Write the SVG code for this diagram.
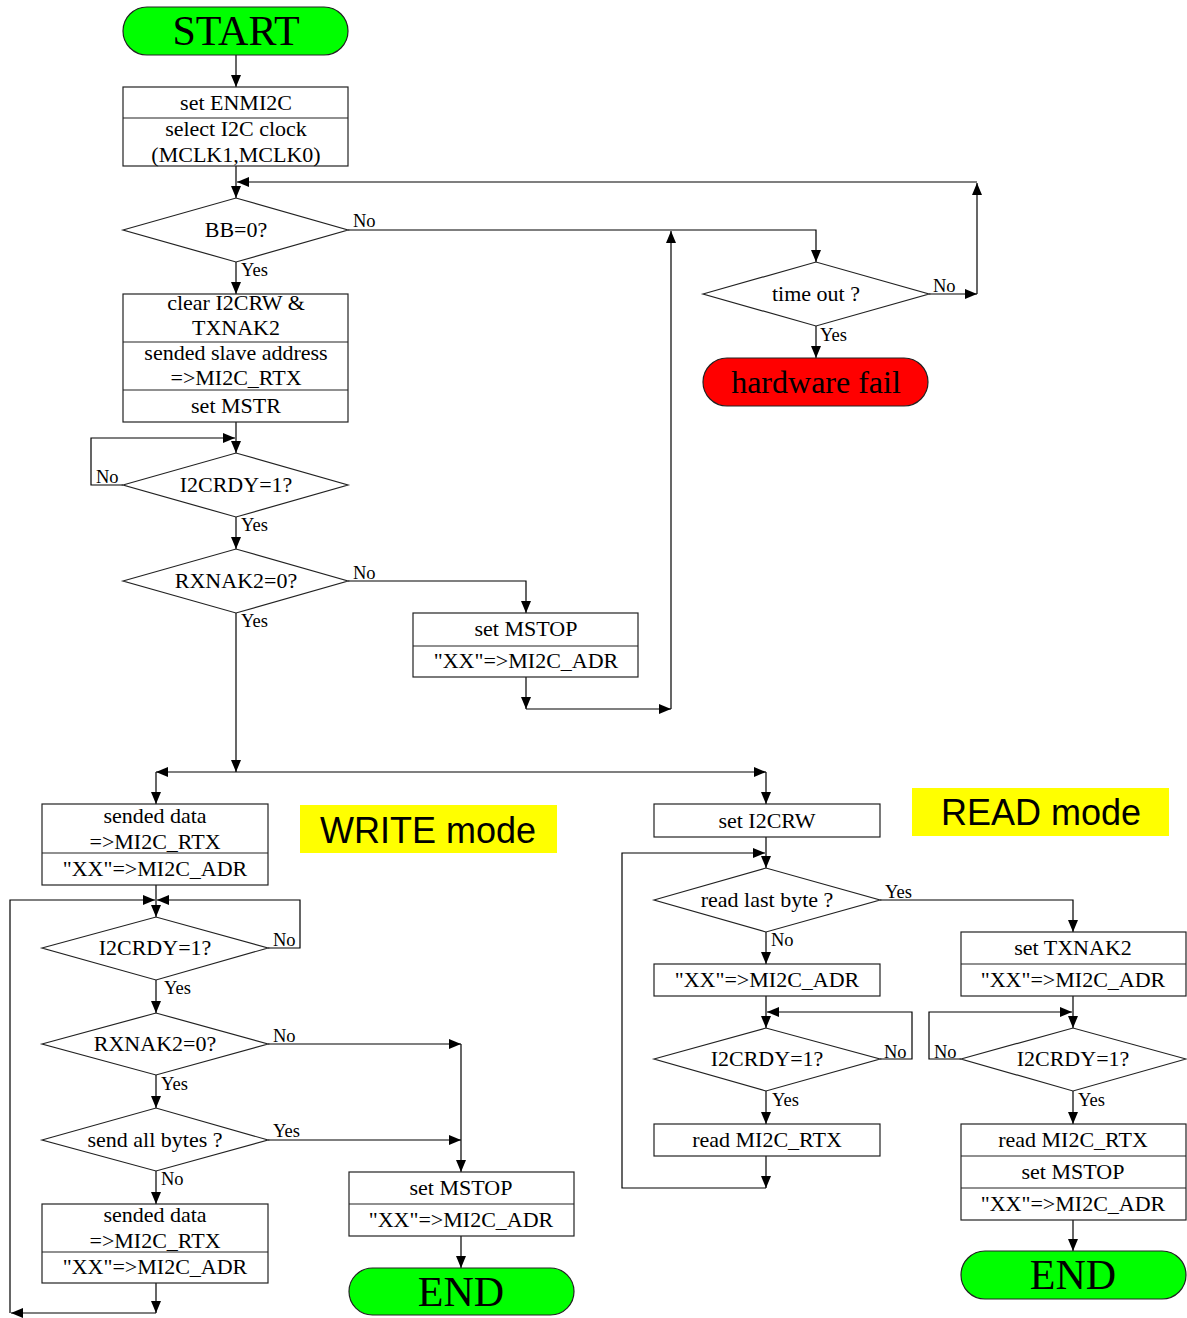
<svg xmlns="http://www.w3.org/2000/svg" width="1187" height="1318" viewBox="0 0 1187 1318">
<defs>
<marker id="arr" markerUnits="userSpaceOnUse" markerWidth="13" markerHeight="11" refX="12" refY="5" orient="auto">
<path d="M0,0 L12,5 L0,10 z" fill="#000"/>
</marker>
<style>
.box{fill:#fff;stroke:#222;stroke-width:1.2}
.div{stroke:#222;stroke-width:1.2}
.dia{fill:#fff;stroke:#222;stroke-width:1.2}
.term{stroke:#222;stroke-width:1.2}
.t{font-family:"Liberation Serif","Times New Roman",serif;font-size:22px;text-anchor:middle;fill:#000}
.big{font-family:"Liberation Serif","Times New Roman",serif;font-size:42px;text-anchor:middle;fill:#000}
.lab{font-family:"Liberation Serif","Times New Roman",serif;font-size:18.5px;fill:#000}
.mode{font-family:"Liberation Sans",Arial,sans-serif;font-size:36px;text-anchor:middle;fill:#000}
.c{fill:none;stroke:#000;stroke-width:1.2;marker-end:url(#arr)}
</style>
</defs>
<rect width="1187" height="1318" fill="#fff"/>

<g id="connectors">
<path class="c" d="M236,55 V87"/>
<path class="c" d="M236,166 V198"/>
<path class="c" d="M929,294 H977"/>
<path class="c" d="M977,294 V183"/>
<path class="c" d="M977,182 H237"/>
<path class="c" d="M348,230 H816 V262"/>
<path class="c" d="M816,326 V358"/>
<path class="c" d="M236,262 V294"/>
<path class="c" d="M236,422 V453"/>
<path class="c" d="M123,485 H91 V438 H235"/>
<path class="c" d="M236,517 V549"/>
<path class="c" d="M348,581 H526 V613"/>
<path class="c" d="M526,677 V709"/>
<path class="c" d="M526,709 H671"/>
<path class="c" d="M671,709 V231"/>
<path class="c" d="M236,613 V772"/>
<path class="c" d="M236,772 H156"/>
<path class="c" d="M236,772 H766"/>
<path class="c" d="M156,772 V804"/>
<path class="c" d="M766,772 V804"/>
<path class="c" d="M156,885 V917"/>
<path class="c" d="M268,948 H300 V900 H157"/>
<path class="c" d="M156,980 V1013"/>
<path class="c" d="M268,1044 H461"/>
<path class="c" d="M461,1044 V1172"/>
<path class="c" d="M156,1075 V1108"/>
<path class="c" d="M268,1140 H461"/>
<path class="c" d="M156,1171 V1204"/>
<path class="c" d="M156,1283 V1313"/>
<path class="c" d="M156,1313 H11"/>
<path class="c" d="M10,1313 V900 H155"/>
<path class="c" d="M461,1236 V1268"/>
<path class="c" d="M766,837 V868"/>
<path class="c" d="M766,1156 V1188"/>
<path class="c" d="M766,1188 H622 V853 H765"/>
<path class="c" d="M880,900 H1073 V932"/>
<path class="c" d="M766,932 V964"/>
<path class="c" d="M766,996 V1028"/>
<path class="c" d="M880,1059 H912 V1012 H767"/>
<path class="c" d="M766,1091 V1124"/>
<path class="c" d="M1073,996 V1028"/>
<path class="c" d="M961,1059 H929 V1012 H1072"/>
<path class="c" d="M1073,1091 V1124"/>
<path class="c" d="M1073,1220 V1251"/>
</g>

<g id="labels">
<text class="lab" x="353" y="227">No</text>
<text class="lab" x="241" y="276">Yes</text>
<text class="lab" x="933" y="292">No</text>
<text class="lab" x="820" y="341">Yes</text>
<text class="lab" x="96" y="483">No</text>
<text class="lab" x="241" y="531">Yes</text>
<text class="lab" x="353" y="579">No</text>
<text class="lab" x="241" y="627">Yes</text>
<text class="lab" x="273" y="946">No</text>
<text class="lab" x="164" y="994">Yes</text>
<text class="lab" x="273" y="1042">No</text>
<text class="lab" x="161" y="1090">Yes</text>
<text class="lab" x="273" y="1137">Yes</text>
<text class="lab" x="161" y="1185">No</text>
<text class="lab" x="885" y="898">Yes</text>
<text class="lab" x="771" y="946">No</text>
<text class="lab" x="884" y="1058">No</text>
<text class="lab" x="772" y="1106">Yes</text>
<text class="lab" x="934" y="1058">No</text>
<text class="lab" x="1078" y="1106">Yes</text>
</g>

<g id="start">
<rect class="term" x="123" y="7" width="225" height="48" rx="24" fill="#00ff00"/>
<text class="big" x="236" y="45">START</text>
</g>

<g id="init">
<rect class="box" x="123" y="87" width="225" height="79"/>
<line class="div" x1="123" y1="118" x2="348" y2="118"/>
<text class="t" x="236" y="110">set ENMI2C</text>
<text class="t" x="236" y="136">select I2C clock</text>
<text class="t" x="236" y="162">(MCLK1,MCLK0)</text>
</g>

<g id="bb">
<polygon class="dia" points="123,230 236,198 348,230 236,262"/>
<text class="t" x="236" y="237">BB=0?</text>
</g>

<g id="timeout">
<polygon class="dia" points="703,294 816,262 929,294 816,326"/>
<text class="t" x="816" y="301">time out ?</text>
</g>

<g id="hwfail">
<rect class="term" x="703" y="358" width="225" height="48" rx="24" fill="#ff0000"/>
<text class="t" x="816" y="393" style="font-size:32px">hardware fail</text>
</g>

<g id="addr">
<rect class="box" x="123" y="294" width="225" height="128"/>
<line class="div" x1="123" y1="342" x2="348" y2="342"/>
<line class="div" x1="123" y1="390" x2="348" y2="390"/>
<text class="t" x="236" y="310">clear I2CRW &amp;</text>
<text class="t" x="236" y="335">TXNAK2</text>
<text class="t" x="236" y="360">sended slave address</text>
<text class="t" x="236" y="385">=&gt;MI2C_RTX</text>
<text class="t" x="236" y="413">set MSTR</text>
</g>

<g id="rdy1">
<polygon class="dia" points="123,485 236,453 348,485 236,517"/>
<text class="t" x="236" y="492">I2CRDY=1?</text>
</g>

<g id="nak1">
<polygon class="dia" points="123,581 236,549 348,581 236,613"/>
<text class="t" x="236" y="588">RXNAK2=0?</text>
</g>

<g id="stop1">
<rect class="box" x="413" y="613" width="225" height="64"/>
<line class="div" x1="413" y1="646" x2="638" y2="646"/>
<text class="t" x="526" y="636">set MSTOP</text>
<text class="t" x="526" y="668">"XX"=&gt;MI2C_ADR</text>
</g>

<g id="writemode">
<rect x="300" y="805" width="257" height="48" fill="#ffff00"/>
<text class="mode" x="428" y="843">WRITE mode</text>
</g>

<g id="readmode">
<rect x="912" y="788" width="257" height="48" fill="#ffff00"/>
<text class="mode" x="1041" y="825">READ mode</text>
</g>

<g id="wdata1">
<rect class="box" x="42" y="804" width="226" height="81"/>
<line class="div" x1="42" y1="853" x2="268" y2="853"/>
<text class="t" x="155" y="823">sended data</text>
<text class="t" x="155" y="849">=&gt;MI2C_RTX</text>
<text class="t" x="155" y="876">"XX"=&gt;MI2C_ADR</text>
</g>

<g id="wrdy">
<polygon class="dia" points="42,948 156,917 268,948 156,980"/>
<text class="t" x="155" y="955">I2CRDY=1?</text>
</g>

<g id="wnak">
<polygon class="dia" points="42,1044 156,1013 268,1044 156,1075"/>
<text class="t" x="155" y="1051">RXNAK2=0?</text>
</g>

<g id="wall">
<polygon class="dia" points="42,1140 156,1108 268,1140 156,1171"/>
<text class="t" x="155" y="1147">send all bytes ?</text>
</g>

<g id="wdata2">
<rect class="box" x="42" y="1204" width="226" height="79"/>
<line class="div" x1="42" y1="1252" x2="268" y2="1252"/>
<text class="t" x="155" y="1222">sended data</text>
<text class="t" x="155" y="1248">=&gt;MI2C_RTX</text>
<text class="t" x="155" y="1274">"XX"=&gt;MI2C_ADR</text>
</g>

<g id="wstop">
<rect class="box" x="349" y="1172" width="225" height="64"/>
<line class="div" x1="349" y1="1204" x2="574" y2="1204"/>
<text class="t" x="461" y="1195">set MSTOP</text>
<text class="t" x="461" y="1227">"XX"=&gt;MI2C_ADR</text>
</g>

<g id="wend">
<rect class="term" x="349" y="1268" width="225" height="47" rx="23.5" fill="#00ff00"/>
<text class="big" x="461" y="1306">END</text>
</g>

<g id="seti2crw">
<rect class="box" x="654" y="804" width="226" height="33"/>
<text class="t" x="767" y="828">set I2CRW</text>
</g>

<g id="lastbyte">
<polygon class="dia" points="654,900 766,868 880,900 766,932"/>
<text class="t" x="767" y="907">read last byte ?</text>
</g>

<g id="rxx">
<rect class="box" x="654" y="964" width="226" height="32"/>
<text class="t" x="767" y="987">"XX"=&gt;MI2C_ADR</text>
</g>

<g id="rrdy">
<polygon class="dia" points="654,1059 766,1028 880,1059 766,1091"/>
<text class="t" x="767" y="1066">I2CRDY=1?</text>
</g>

<g id="rread">
<rect class="box" x="654" y="1124" width="226" height="32"/>
<text class="t" x="767" y="1147">read MI2C_RTX</text>
</g>

<g id="txnak">
<rect class="box" x="961" y="932" width="225" height="64"/>
<line class="div" x1="961" y1="964" x2="1186" y2="964"/>
<text class="t" x="1073" y="955">set TXNAK2</text>
<text class="t" x="1073" y="987">"XX"=&gt;MI2C_ADR</text>
</g>

<g id="rrdy2">
<polygon class="dia" points="961,1059 1073,1028 1186,1059 1073,1091"/>
<text class="t" x="1073" y="1066">I2CRDY=1?</text>
</g>

<g id="rlast">
<rect class="box" x="961" y="1124" width="225" height="96"/>
<line class="div" x1="961" y1="1156" x2="1186" y2="1156"/>
<line class="div" x1="961" y1="1188" x2="1186" y2="1188"/>
<text class="t" x="1073" y="1147">read MI2C_RTX</text>
<text class="t" x="1073" y="1179">set MSTOP</text>
<text class="t" x="1073" y="1211">"XX"=&gt;MI2C_ADR</text>
</g>

<g id="rend">
<rect class="term" x="961" y="1251" width="225" height="48" rx="24" fill="#00ff00"/>
<text class="big" x="1073" y="1289">END</text>
</g>
</svg>
